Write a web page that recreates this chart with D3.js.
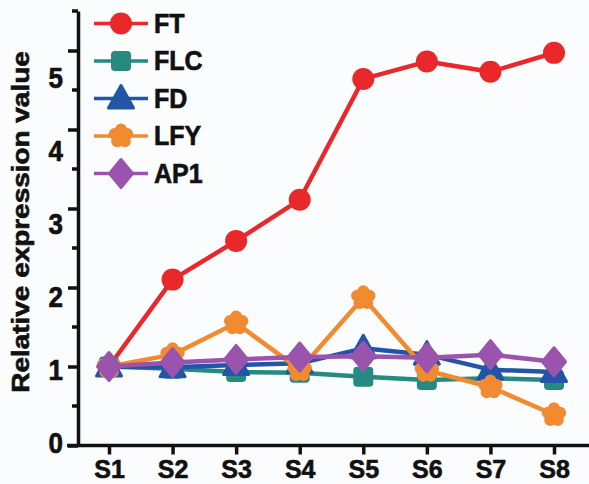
<!DOCTYPE html>
<html>
<head>
<meta charset="utf-8">
<script src="https://cdn.jsdelivr.net/npm/d3@7"></script>
<style>
  html, body { margin: 0; padding: 0; background: #fbfcfd; }
  svg { display: block; font-family: "Liberation Sans", Arial, sans-serif; font-weight: bold; }
</style>
</head>
<body>
<div id="chart"></div>
<script>
// sampling stages on the x axis
const samples = ['S1', 'S2', 'S3', 'S4', 'S5', 'S6', 'S7', 'S8']

// gene names, in legend order
const genes = ['FT', 'FLC', 'FD', 'LFY', 'AP1']

// relative expression per gene
const ftValues = [1.0, 2.1, 2.59, 3.11, 4.64, 4.86, 4.73, 4.97]
const flcValues = [1.0, 0.97, 0.93, 0.92, 0.87, 0.83, 0.85, 0.83]
const fdValues = [1.0, 0.99, 1.02, 1.04, 1.23, 1.15, 0.96, 0.93]
const lfyValues = [1.0, 1.15, 1.55, 0.96, 1.87, 0.95, 0.74, 0.39]
const ap1Values = [1.0, 1.05, 1.09, 1.12, 1.13, 1.11, 1.15, 1.06]

// y axis ticks
const yMajorTicks = [0, 1, 2, 3, 4, 5]
const yMinorTicks = [0.5, 1.5, 2.5, 3.5, 4.5, 5.5]

const series = [
  { name: genes[0], values: ftValues, color: '#e8282b', shape: 'circle' },
  { name: genes[1], values: flcValues, color: '#268a80', shape: 'square' },
  { name: genes[2], values: fdValues, color: '#2255a8', shape: 'triangle' },
  { name: genes[3], values: lfyValues, color: '#f28a32', shape: 'flower' },
  { name: genes[4], values: ap1Values, color: '#9a54ad', shape: 'diamond' },
]

const W = 589
const H = 484
const axisX = 78
const axisY = 445.5
const stretch = 1.12 // text in the figure is a bit taller than wide

const svg = d3.select('#chart').append('svg')
  .attr('width', W)
  .attr('height', H)

svg.append('rect').attr('width', W).attr('height', H).attr('fill', '#fbfcfd')

// scales
const x = d3.scalePoint().domain(samples).range([109, 554])
const y = d3.scaleLinear().domain([0, 5.5]).range([axisY, 11])
// tick labels sit a little off their ticks in the figure
const yLabel = d3.scaleLinear().domain([0, 5]).range([442, 77])

// draw a marker shape centred at 0,0
function drawMarker(g, shape, color) {
  if (shape === 'circle') {
    g.append('circle').attr('r', 11).attr('fill', color)
  } else if (shape === 'square') {
    g.append('rect')
      .attr('x', -10).attr('y', -10)
      .attr('width', 20).attr('height', 20)
      .attr('rx', 4)
      .attr('fill', color)
  } else if (shape === 'triangle') {
    g.append('path')
      .attr('d', 'M0,-13L12.5,9.5L-12.5,9.5Z')
      .attr('fill', color)
      .attr('stroke', color)
      .attr('stroke-width', 3)
      .attr('stroke-linejoin', 'round')
  } else if (shape === 'flower') {
    const p = d3.path()
    for (let k = 0; k < 5; k++) {
      const a = -Math.PI / 2 + (k * 2 * Math.PI) / 5
      const cx = 6.5 * Math.cos(a)
      const cy = 6.5 * Math.sin(a)
      p.moveTo(cx + 6, cy)
      p.arc(cx, cy, 6, 0, 2 * Math.PI)
    }
    p.moveTo(8, 0)
    p.arc(0, 0, 8, 0, 2 * Math.PI)
    g.append('path').attr('d', p.toString()).attr('fill', color)
  } else if (shape === 'diamond') {
    g.append('path')
      .attr('d', 'M0,-14L11.5,0L0,14L-11.5,0Z')
      .attr('fill', color)
      .attr('stroke', color)
      .attr('stroke-width', 3)
      .attr('stroke-linejoin', 'round')
  }
}

// heavier look for the bold labels
function inkText(sel) {
  sel.attr('fill', '#111').attr('stroke', '#111').attr('stroke-width', 0.6)
}

// y axis: major ticks with labels
const yAxisG = svg.append('g')
  .attr('class', 'y-axis')
  .attr('transform', `translate(${axisX},0)`)
  .call(
    d3.axisLeft(y)
      .tickValues(yMajorTicks)
      .tickSize(10)
      .tickSizeOuter(0)
      .tickPadding(5)
      .tickFormat(d3.format('d')),
  )

yAxisG.select('.domain').attr('stroke', '#111').attr('stroke-width', 3.5)
yAxisG.selectAll('.tick line').attr('stroke', '#111').attr('stroke-width', 3.5)
yAxisG.selectAll('.tick text')
  .call(inkText)
  .style('font-size', '26px')
  .attr('y', d => (yLabel(d) - y(d)) / stretch)
  .attr('dy', '0.36em')
  .attr('transform', `scale(1,${stretch})`)

// y axis: minor ticks
svg.append('g')
  .attr('class', 'y-minor')
  .selectAll('line')
  .data(yMinorTicks)
  .join('line')
  .attr('x1', axisX - 6)
  .attr('x2', axisX)
  .attr('y1', d => y(d))
  .attr('y2', d => y(d))
  .attr('stroke', '#111')
  .attr('stroke-width', 3.5)

// x axis
const xAxisG = svg.append('g')
  .attr('class', 'x-axis')
  .attr('transform', `translate(0,${axisY})`)
  .call(d3.axisBottom(x).tickSize(9).tickSizeOuter(0))

xAxisG.select('.domain').remove()
xAxisG.selectAll('.tick line').attr('stroke', '#111').attr('stroke-width', 3.5)
xAxisG.selectAll('.tick text')
  .call(inkText)
  .style('font-size', '25px')
  .attr('y', 32.5)
  .attr('dy', 0)

xAxisG.append('line')
  .attr('x1', axisX - 11)
  .attr('x2', W)
  .attr('y1', 0)
  .attr('y2', 0)
  .attr('stroke', '#111')
  .attr('stroke-width', 3.5)

// y axis title
svg.append('text')
  .attr('transform', `translate(29,222) rotate(-90) scale(1.14,1)`)
  .attr('text-anchor', 'middle')
  .style('font-size', '24.5px')
  .call(inkText)
  .text('Relative expression value')

// series lines and markers
const line = d3.line()
  .x((d, i) => x(samples[i]))
  .y(d => y(d))

series.forEach(s => {
  const g = svg.append('g').attr('class', 'series')

  g.append('path')
    .attr('d', line(s.values))
    .attr('fill', 'none')
    .attr('stroke', s.color)
    .attr('stroke-width', 4.5)
    .attr('stroke-linejoin', 'round')

  s.values.forEach((v, i) => {
    const m = g.append('g')
      .attr('transform', `translate(${x(samples[i])},${y(v)})`)
    drawMarker(m, s.shape, s.color)
  })
})

// legend
const legend = svg.append('g')
  .attr('class', 'legend')
  .attr('transform', 'translate(94,23.5)')

series.forEach((s, i) => {
  const item = legend.append('g')
    .attr('transform', `translate(0,${i * 37.5})`)

  item.append('line')
    .attr('x1', 0)
    .attr('x2', 54)
    .attr('stroke', s.color)
    .attr('stroke-width', 3.5)

  drawMarker(item.append('g').attr('transform', 'translate(27,0)'), s.shape, s.color)

  item.append('text')
    .attr('x', 60)
    .attr('y', 9 / 1.08)
    .attr('transform', 'scale(1,1.08)')
    .style('font-size', '25px')
    .call(inkText)
    .text(s.name)
})
</script>
</body>
</html>
